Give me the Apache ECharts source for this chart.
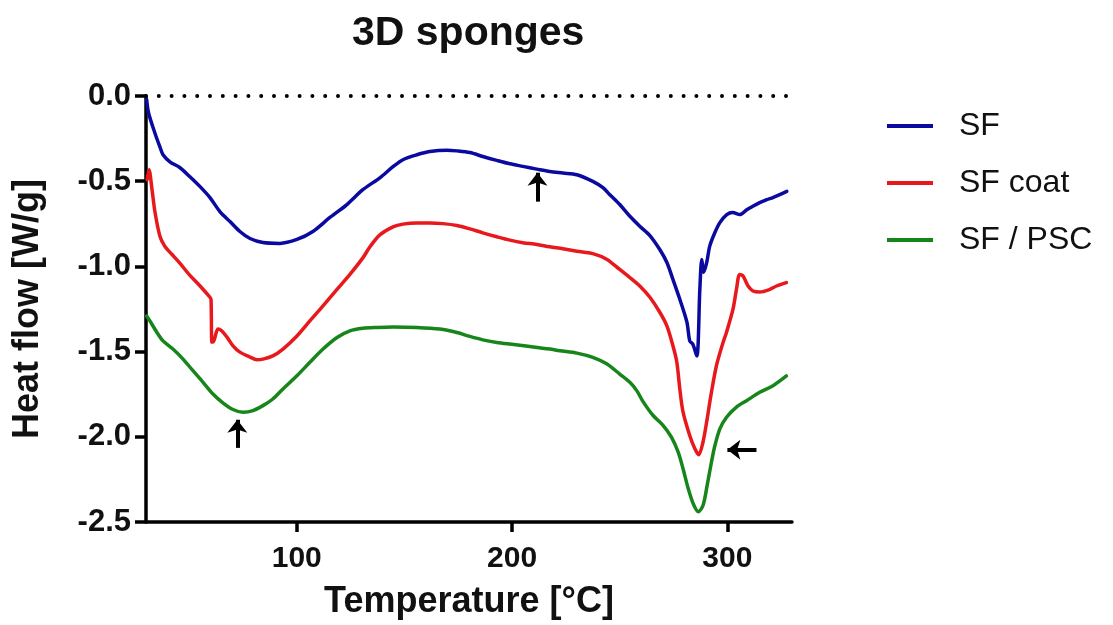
<!DOCTYPE html>
<html>
<head>
<meta charset="utf-8">
<title>3D sponges</title>
<script src="https://cdn.jsdelivr.net/npm/echarts@6/dist/echarts.min.js"></script>
<style>
  html, body { margin: 0; padding: 0; background: #fff; }
  #chart { width: 1113px; height: 625px; }
</style>
</head>
<body>
<div id="chart"></div>
<script>
// DSC traces of the three sponge formulations: [temperature °C, heat flow W/g]
const seriesNames = ['SF', 'SF coat', 'SF / PSC'];

const sfData = [
  [30.3, -0.02], [31.2, -0.10], [34.2, -0.22], [36.5, -0.30], [37.9, -0.345],
  [41.1, -0.386], [45.8, -0.421], [50.4, -0.474], [55.1, -0.532], [59.7, -0.596],
  [64.3, -0.678], [69.0, -0.737], [73.6, -0.795], [78.3, -0.836], [84.3, -0.860],
  [92.2, -0.865], [100.1, -0.842], [107.5, -0.795], [115.4, -0.713], [123.3, -0.637],
  [130.7, -0.550], [138.6, -0.480], [144.7, -0.415], [149.3, -0.374], [155.8, -0.345],
  [161.8, -0.326], [169.7, -0.318], [174.4, -0.322], [180.4, -0.332], [186.4, -0.355],
  [192.9, -0.378], [199.0, -0.398], [205.0, -0.413], [211.5, -0.429], [217.5, -0.443],
  [223.6, -0.452], [230.1, -0.462], [237.5, -0.501], [242.2, -0.538], [245.4, -0.579],
  [250.0, -0.637], [254.7, -0.706], [259.3, -0.764], [264.0, -0.819], [268.6, -0.901],
  [271.9, -0.977], [274.7, -1.076], [277.9, -1.193], [281.2, -1.327], [282.5, -1.437],
  [283.9, -1.456], [285.8, -1.525], [287.2, -1.135], [288.1, -0.959], [289.0, -1.035],
  [290.4, -0.977], [291.8, -0.881], [294.2, -0.801], [296.5, -0.743], [299.7, -0.696],
  [302.5, -0.684], [305.8, -0.696], [309.0, -0.667], [311.8, -0.647], [315.0, -0.626],
  [318.3, -0.608], [321.1, -0.596], [324.3, -0.579], [327.6, -0.560]
];

const sfCoatData = [
  [30.5, -0.491], [31.4, -0.433], [32.8, -0.550], [34.2, -0.684], [36.5, -0.825],
  [38.8, -0.883], [42.1, -0.930], [45.8, -0.982], [50.4, -1.053], [55.1, -1.115],
  [59.7, -1.181], [60.2, -1.193], [60.6, -1.444], [61.2, -1.444], [63.4, -1.368],
  [65.1, -1.378], [67.6, -1.415], [70.4, -1.466], [73.6, -1.503], [78.3, -1.532],
  [81.5, -1.548], [84.3, -1.544], [88.9, -1.525], [93.6, -1.485], [100.1, -1.408],
  [106.1, -1.320], [112.2, -1.232], [118.7, -1.135], [124.7, -1.047], [130.7, -0.950],
  [134.0, -0.885], [138.6, -0.815], [144.7, -0.768], [149.3, -0.752], [155.8, -0.745],
  [161.8, -0.745], [167.9, -0.749], [174.4, -0.760], [180.4, -0.780], [186.4, -0.803],
  [192.9, -0.826], [199.0, -0.846], [205.0, -0.861], [211.5, -0.871], [217.5, -0.885],
  [223.6, -0.896], [230.1, -0.911], [237.5, -0.925], [244.1, -0.959], [250.0, -1.018],
  [254.7, -1.066], [259.3, -1.115], [264.0, -1.181], [268.6, -1.269], [271.9, -1.349],
  [274.7, -1.466], [276.5, -1.561], [277.9, -1.719], [279.4, -1.854], [282.5, -1.992],
  [284.9, -2.070], [286.7, -2.105], [288.7, -2.029], [290.6, -1.895], [292.3, -1.760],
  [294.9, -1.583], [298.0, -1.446], [299.6, -1.386], [302.6, -1.251], [304.2, -1.135],
  [305.7, -1.047], [307.3, -1.057], [309.6, -1.115], [311.9, -1.144], [315.0, -1.150],
  [319.7, -1.135], [322.8, -1.115], [327.4, -1.095]
];

const sfPscData = [
  [30.3, -1.291], [31.8, -1.320], [35.1, -1.388], [37.9, -1.437], [42.5, -1.485],
  [47.2, -1.544], [51.8, -1.612], [56.5, -1.680], [61.1, -1.749], [65.7, -1.801],
  [70.4, -1.840], [75.0, -1.856], [79.7, -1.846], [84.3, -1.817], [88.9, -1.778],
  [93.6, -1.719], [100.1, -1.642], [106.1, -1.563], [112.2, -1.485], [118.7, -1.417],
  [124.7, -1.378], [130.7, -1.363], [137.2, -1.358], [144.7, -1.355], [155.8, -1.358],
  [166.5, -1.368], [174.4, -1.388], [180.4, -1.411], [186.4, -1.431], [192.9, -1.446],
  [199.0, -1.456], [208.3, -1.470], [217.5, -1.485], [222.2, -1.495], [230.1, -1.509],
  [237.5, -1.534], [244.1, -1.573], [250.0, -1.632], [254.7, -1.680], [257.9, -1.729],
  [260.9, -1.795], [265.5, -1.875], [270.2, -1.934], [274.0, -2.002], [277.1, -2.089],
  [279.4, -2.187], [281.8, -2.304], [284.1, -2.392], [286.5, -2.440], [288.7, -2.402],
  [290.6, -2.285], [292.6, -2.148], [294.2, -2.051], [296.5, -1.953], [299.6, -1.885],
  [304.2, -1.826], [308.9, -1.788], [315.0, -1.739], [321.2, -1.700], [327.4, -1.643]
];

// axis ticks
const xTicks = [100, 200, 300];
const yMin = -2.5, yMax = 0, yStep = 0.5;

// annotation arrows: [x from, y from, x to (head), y to (head)]
const arrows = [
  [211.8, -0.62, 211.8, -0.45],
  [72.4, -2.065, 72.4, -1.90],
  [313.5, -2.076, 300.0, -2.076]
];

const colors = ['#0A0AA0', '#E8191C', '#17861A'];
const FONT = '"Liberation Sans", Arial, Helvetica, sans-serif';

const chart = echarts.init(document.getElementById('chart'), null, { renderer: 'canvas' });

const arrowLines = arrows.map(a => [
  { coord: [a[0], a[1]] },
  { coord: [a[2], a[3]] }
]);

const lineSeries = (name, data) => ({
  name,
  type: 'line',
  data,
  showSymbol: false,
  smooth: 0.3,
  lineStyle: { width: 3.5, cap: 'round', join: 'round' },
  z: 3
});

const sf = lineSeries(seriesNames[0], sfData);
// dotted zero baseline
sf.markLine = {
  silent: true,
  symbol: ['none', 'none'],
  label: { show: false },
  lineStyle: { color: '#000', width: 4, type: [0, 12.8], cap: 'round' },
  data: [{ yAxis: 0 }]
};

const psc = lineSeries(seriesNames[2], sfPscData);
psc.markLine = {
  silent: true,
  symbol: ['none', 'arrow'],
  symbolSize: [15, 13],
  label: { show: false },
  lineStyle: { color: '#000', width: 4, type: 'solid' },
  data: arrowLines
};

chart.setOption({
  animation: false,
  backgroundColor: '#ffffff',
  color: colors,
  title: {
    text: '3D sponges',
    left: 347,
    top: 8,
    textStyle: { fontFamily: FONT, fontSize: 41, fontWeight: 'bold', color: '#111' }
  },
  legend: {
    orient: 'vertical',
    left: 882,
    top: 105,
    itemWidth: 46,
    itemHeight: 4,
    itemGap: 25,
    icon: 'rect',
    data: seriesNames,
    textStyle: { fontFamily: FONT, fontSize: 32, color: '#111', padding: [0, 0, 0, 21] }
  },
  grid: { left: 146, top: 96, width: 646, height: 428, containLabel: false },
  xAxis: {
    type: 'value',
    min: 30,
    max: 330,
    name: 'Temperature [°C]',
    nameLocation: 'middle',
    nameGap: 62,
    nameTextStyle: { fontFamily: FONT, fontSize: 36, fontWeight: 'bold', color: '#111' },
    axisLine: { show: true, onZero: false, lineStyle: { color: '#000', width: 3.5 } },
    axisTick: { show: true, length: 10, customValues: xTicks, lineStyle: { color: '#000', width: 3.5 } },
    axisLabel: {
      customValues: xTicks,
      margin: 22,
      fontFamily: FONT, fontSize: 30, fontWeight: 'bold', color: '#111'
    },
    splitLine: { show: false }
  },
  yAxis: {
    type: 'value',
    min: yMin,
    max: yMax,
    interval: yStep,
    name: 'Heat flow [W/g]',
    nameLocation: 'middle',
    nameGap: 100,
    nameTextStyle: { fontFamily: FONT, fontSize: 36, fontWeight: 'bold', color: '#111' },
    axisLine: { show: true, lineStyle: { color: '#000', width: 3.5 } },
    axisTick: { show: true, length: 11, lineStyle: { color: '#000', width: 3.5 } },
    axisLabel: {
      margin: 15,
      fontFamily: FONT, fontSize: 31, fontWeight: 'bold', color: '#111',
      formatter: v => v.toFixed(1)
    },
    splitLine: { show: false }
  },
  series: [
    sf,
    lineSeries(seriesNames[1], sfCoatData),
    psc
  ]
});
</script>
</body>
</html>
